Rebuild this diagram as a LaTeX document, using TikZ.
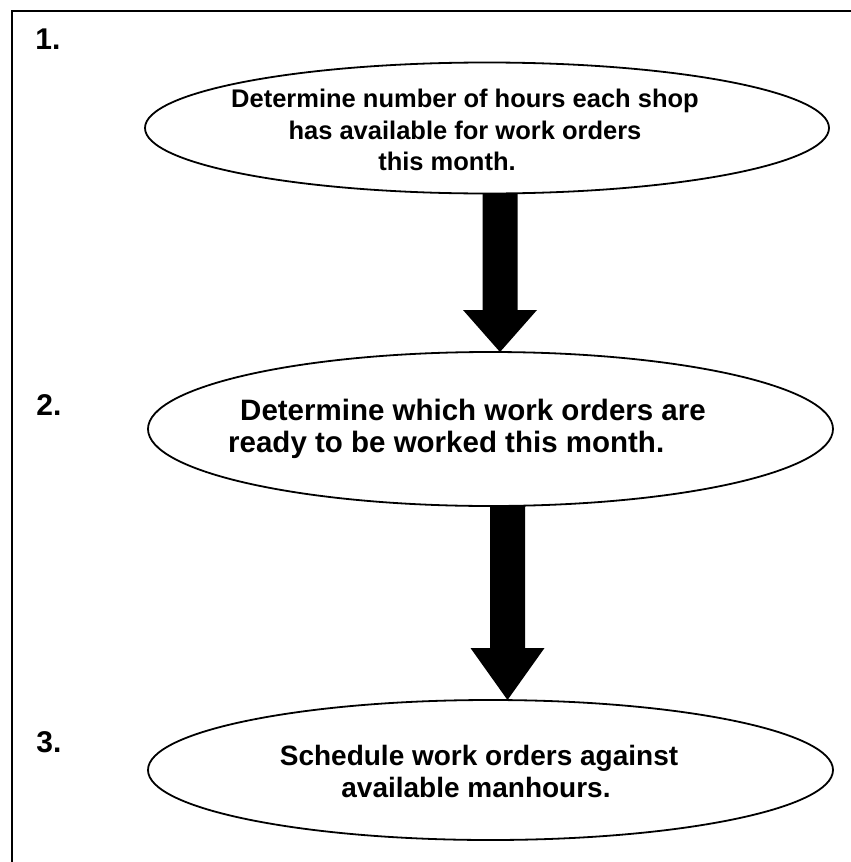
\documentclass[tikz,border=0pt]{standalone}
\usepackage{fontspec}
\setmainfont{Liberation Sans}
\usetikzlibrary{calc}
\usetikzlibrary{shapes.geometric}
% #1 from node, #2 to node, #3 x offset, #4 head height
\newcommand\blockarrow[4]{%
  \fill let \p1=(#1.south), \p2=(#2.north) in
    ({\x2+#3-17.5pt},\y1) -- ({\x2+#3+17.5pt},\y1) -- ({\x2+#3+17.5pt},\y2+#4)
    -- ({\x2+#3+37pt},\y2+#4) -- ({\x2+#3},\y2) -- ({\x2+#3-37pt},\y2+#4)
    -- ({\x2+#3-17.5pt},\y2+#4) -- cycle;}
\begin{document}
\begin{tikzpicture}[x=1pt,y=-1pt,
  stepell/.style={draw, line width=1.8pt, ellipse, inner sep=0pt, outer sep=0pt},
  steptext/.style={inner sep=0pt, align=center},
  numlabel/.style={inner sep=0pt, font=\fontsize{30}{32}\selectfont\bfseries}]
\useasboundingbox (0,0) rectangle (851,862);
\fill[white] (0,0) rectangle (851,862);
\draw[line width=2.3pt] (12,862) -- (12,11) -- (851,11);
% ellipses
\node[stepell, minimum width=684pt, minimum height=131pt] (e1) at (487,128) {};
\node[stepell, minimum width=685pt, minimum height=154pt] (e2) at (490.5,429) {};
\node[stepell, minimum width=685pt, minimum height=140pt] (e3) at (490.5,770) {};
% numbers
\node[numlabel] (n1) at (48,39) {1.};
\node[numlabel] (n2) at (49,405) {2.};
\node[numlabel] (n3) at (49,742) {3.};
% texts
\node[steptext, font=\fontsize{25.5}{31.5}\selectfont\bfseries] (t1) at (465,130)
  {Determine number of hours each shop\\has available for work orders\hspace*{12pt}\\this month.\hspace*{36pt}};
\node[steptext, align=left, anchor=west, font=\fontsize{29.5}{32}\selectfont\bfseries] (t2) at (228,429)
  {\hspace*{12pt}Determine which work orders are\\ready to be worked this month.};
\node[steptext, font=\fontsize{28}{32}\selectfont\bfseries] (t3) at (479,771.5)
  {Schedule work orders against\\available manhours.\hspace*{6pt}};
% arrows
\blockarrow{e1}{e2}{9.5pt}{42pt}
\blockarrow{e2}{e3}{17pt}{52pt}
\end{tikzpicture}
\end{document}
